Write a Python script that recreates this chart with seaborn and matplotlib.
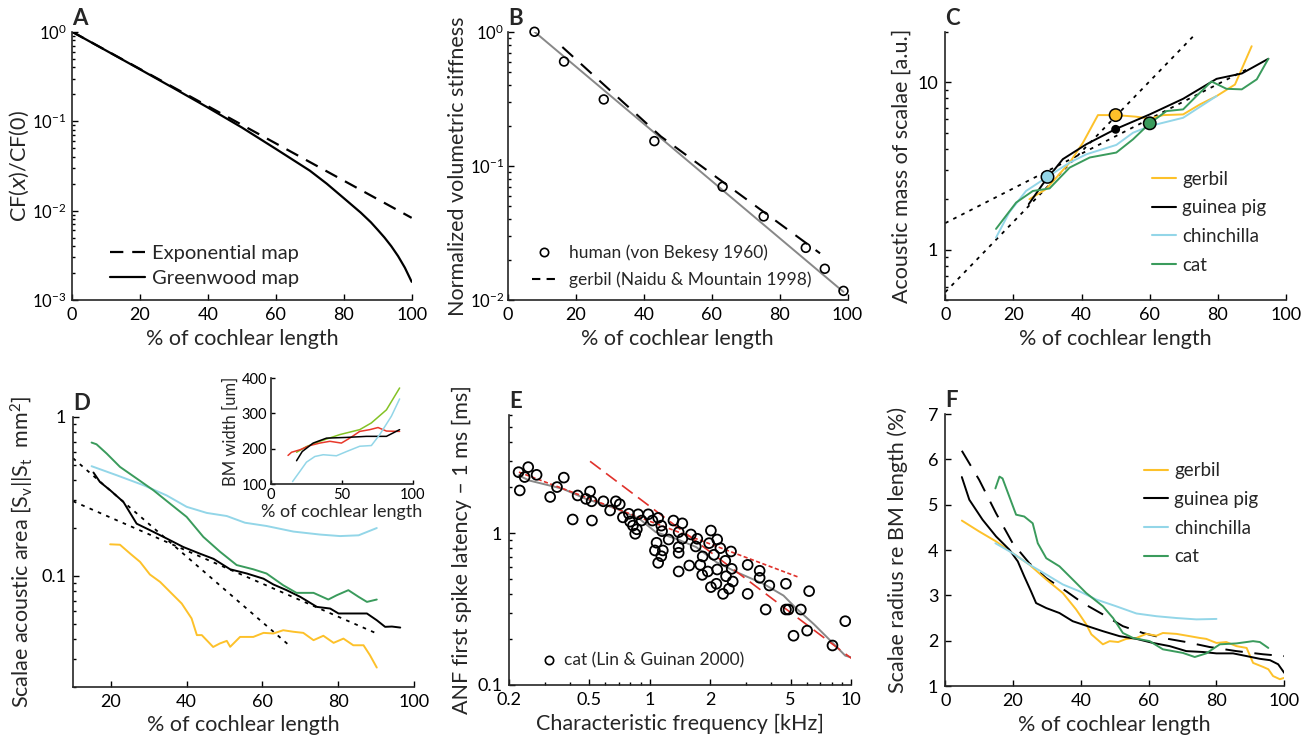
import numpy as np
import pandas as pd
import matplotlib
matplotlib.use("Agg")
import matplotlib.pyplot as plt
import seaborn as sns
from matplotlib.ticker import FixedLocator, NullFormatter, LogLocator
from matplotlib.lines import Line2D

# ---------------- data ----------------
# A: place-frequency maps
a_exp_x = [0, 100]
a_exp_y = [1.0, 0.0083]
a_gw_x = [0, 10, 20, 30, 40, 50, 60, 70, 75, 80, 85, 88, 90, 92, 94, 96, 98, 100]
a_gw_y = [1.0, 0.617, 0.38, 0.233, 0.142, 0.085, 0.049, 0.028, 0.020, 0.0138,
          0.0095, 0.0074, 0.0061, 0.0050, 0.0040, 0.0031, 0.0023, 0.0016]

# B: normalized volumetric stiffness
b_human_x = [7.8, 16.5, 28.2, 43.1, 63.2, 75.3, 87.7, 93.3, 98.8]
b_human_y = [1.0, 0.60, 0.313, 0.153, 0.070, 0.042, 0.0245, 0.0171, 0.0117]
b_fit_x = [7.8, 98.8]
b_fit_y = [1.0, 0.0115]
b_gerbil_x = [16, 45, 91.9]
b_gerbil_y = [0.77, 0.166, 0.0223]

# C: acoustic mass of scalae
c_gerbil_x = [24.7, 29.6, 36.5, 40.4, 44.8, 50.2, 56, 60, 64, 69.8, 74.7, 79.6, 85, 89.9]
c_gerbil_y = [2.0, 2.30, 3.31, 4.35, 6.36, 6.36, 6.22, 6.06, 6.36, 6.42, 7.36, 8.26, 9.68, 16.4]
c_gp_x = [24.5, 28.6, 34.5, 41.4, 50.0, 60, 69.8, 79.6, 87, 94.8]
c_gp_y = [1.87, 2.46, 3.47, 4.26, 5.25, 6.42, 7.96, 10.47, 11.27, 13.8]
c_ch_x = [14.9, 18.8, 23.7, 30, 36.5, 41.4, 50.2, 55.1, 60, 69.8, 79.6]
c_ch_y = [1.18, 1.67, 2.24, 2.72, 3.31, 3.71, 4.22, 4.99, 5.47, 6.13, 8.26]
c_cat_x = [14.9, 20.8, 25.7, 30.6, 36.5, 42.4, 50.2, 55.1, 60, 64.9, 69.8, 73.7,
           78.1, 82.5, 87, 91.4, 94.8]
c_cat_y = [1.33, 1.91, 2.24, 2.32, 3.09, 3.55, 3.80, 4.56, 5.68, 6.72, 6.88, 8.26,
           10.1, 9.13, 9.06, 10.4, 13.8]
c_steep_x = [0, 73.2]
c_steep_y = [0.557, 19.2]
c_shallow_x = [0, 89.4]
c_shallow_y = [1.44, 12.2]
c_pts_x = [30, 50, 50, 60]
c_pts_y = [2.72, 6.36, 5.23, 5.68]

# D: scalae acoustic area
d_cat_x = [14.9, 16.2, 18.9, 22.4, 26.8, 31.2, 35.6, 40, 44.4, 48.8, 53.2, 57.6,
           61.1, 65.5, 69, 73.5, 77.4, 79.6, 82.7, 85.4, 87.6, 90.2]
d_cat_y = [0.69, 0.673, 0.588, 0.485, 0.41, 0.346, 0.285, 0.235, 0.176, 0.142, 0.117,
           0.110, 0.1035, 0.0873, 0.0782, 0.0782, 0.071, 0.0755, 0.0813, 0.0738, 0.0686, 0.071]
d_ch_x = [14.9, 21.5, 28.6, 34.7, 40, 45.3, 50.6, 55.4, 61.1, 68.2, 75.2, 80.5, 85.4, 90.2]
d_ch_y = [0.49, 0.43, 0.372, 0.321, 0.272, 0.249, 0.238, 0.216, 0.206, 0.19, 0.182,
          0.178, 0.18, 0.2]
d_gp_x = [15.4, 17.1, 19.8, 23.3, 26.8, 30.3, 34.7, 39.1, 43.5, 47.1, 51.5, 55.9, 60.3,
          62.9, 66.4, 70, 74.4, 77.9, 80.1, 83.2, 87.6, 90.2, 92.4, 94.2, 96.4]
d_gp_y = [0.447, 0.39, 0.346, 0.292, 0.213, 0.194, 0.172, 0.152, 0.138, 0.128, 0.11,
          0.1035, 0.096, 0.0883, 0.0813, 0.0738, 0.0638, 0.0623, 0.058, 0.058, 0.058,
          0.0526, 0.0478, 0.048, 0.0473]
d_gerbil_x = [19.8, 22.4, 25.1, 27.7, 30.3, 33, 35.6, 38.7, 41.3, 42.7, 44, 47, 48.8,
              50.6, 51.5, 54.1, 57.6, 60.3, 62.9, 65.5, 68.2, 70.8, 73.5, 76.1, 78.8,
              81.4, 84, 86.7, 88.4, 90.2]
d_gerbil_y = [0.158, 0.157, 0.138, 0.1225, 0.102, 0.0916, 0.0794, 0.067, 0.054, 0.0424,
              0.0424, 0.0357, 0.0376, 0.039, 0.0358, 0.0413, 0.0413, 0.0438, 0.0434,
              0.0455, 0.0445, 0.0438, 0.0394, 0.042, 0.0379, 0.0403, 0.0366, 0.0366,
              0.0317, 0.0265]
d_steep_x = [10, 67.1]
d_steep_y = [0.55, 0.0365]
d_shallow_x = [10, 90.2]
d_shallow_y = [0.295, 0.0434]

# D inset: BM width
i_green_x = [18, 25, 34.4, 48.5, 62.5, 70.7, 81.3, 90.6]
i_green_y = [190, 206, 221, 240, 254, 273, 310, 372]
i_red_x = [12, 14.5, 20.4, 27.4, 34.4, 41.5, 49.6, 55.5, 62.5, 69.6, 75.4, 81.3, 90.6]
i_red_y = [181, 190, 197, 209, 216, 221, 216, 230, 249, 254, 260, 250, 249]
i_black_x = [18, 22, 29.7, 39.1, 53.2, 67.2, 81.3, 90.6]
i_black_y = [166, 192, 216, 230, 232, 235, 235, 254]
i_cyan_x = [15.2, 20.4, 25, 30.9, 36.8, 46.1, 53.2, 62.5, 70.7, 76.6, 84.8, 90.6]
i_cyan_y = [107, 136, 162, 178, 183, 180, 192, 207, 209, 240, 292, 341]

# E: ANF first spike latency vs CF (cat, Lin & Guinan 2000)
e_cf = [0.223, 0.226, 0.239, 0.249, 0.274, 0.320, 0.346, 0.374, 0.414, 0.438, 0.482,
        0.505, 0.514, 0.516, 0.588, 0.635, 0.678, 0.709, 0.735, 0.787, 0.798, 0.824,
        0.846, 0.862, 0.875, 0.910, 0.982, 1.03, 1.08, 1.06, 1.10, 1.10, 1.14, 1.14,
        1.15, 1.16, 1.24, 1.31, 1.39, 1.39, 1.39, 1.39, 1.45, 1.45, 1.57, 1.60, 1.69,
        1.72, 1.78, 1.82, 1.83, 1.94, 1.97, 2.01, 2.01, 2.08, 2.14, 2.16, 2.16, 2.24,
        2.31, 2.37, 2.39, 2.47, 2.53, 2.55, 2.58, 3.06, 3.06, 3.51, 3.51, 3.76, 3.92,
        4.74, 4.74, 4.88, 5.17, 5.62, 6.04, 6.18, 8.07, 9.34]
e_lat = [2.52, 1.91, 2.34, 2.72, 2.42, 1.73, 2.01, 2.32, 1.23, 1.77, 1.68, 1.88, 1.62,
         1.21, 1.62, 1.41, 1.62, 1.55, 1.27, 1.34, 1.19, 1.12, 0.99, 1.06, 1.33, 1.21,
         1.33, 1.21, 0.864, 0.769, 0.637, 1.26, 1.12, 0.705, 1.03, 0.769, 0.908, 1.21,
         1.015, 0.809, 0.742, 0.559, 1.16, 0.918, 0.612, 0.98, 0.817, 0.918, 0.618,
         0.531, 0.702, 0.559, 0.859, 1.04, 0.441, 0.72, 0.464, 0.908, 0.576, 0.796,
         0.398, 0.657, 0.52, 0.43, 0.757, 0.582, 0.48, 0.618, 0.398, 0.565, 0.508,
         0.314, 0.452, 0.464, 0.314, 0.314, 0.211, 0.314, 0.228, 0.415, 0.182, 0.263]
e_smooth_x = [0.223, 0.252, 0.369, 0.482, 0.681, 0.889, 1.07, 1.35, 1.70, 2.14, 2.70,
              3.66, 4.61, 5.26, 6.51, 7.88, 9.34, 10]
e_smooth_y = [2.40, 2.22, 1.96, 1.68, 1.45, 1.24, 1.015, 0.918, 0.809, 0.644, 0.553,
              0.464, 0.388, 0.325, 0.252, 0.196, 0.156, 0.152]
e_fit1_x = [0.224, 5.47]
e_fit1_y = [2.52, 0.513]
e_fit2_x = [0.505, 10]
e_fit2_y = [2.97, 0.15]

# F: scalae radius re BM length
f_model_x = [4.9, 10, 15, 19.9, 24.8, 29.8, 35.7, 40.6, 46.5, 52.4, 58.3, 64.2, 71.1,
             78, 85.9, 93.8, 100]
f_model_y = [6.19, 5.55, 4.81, 4.15, 3.71, 3.38, 3.09, 2.83, 2.58, 2.32, 2.17, 2.06,
             1.97, 1.86, 1.77, 1.70, 1.66]
f_gp_x = [4.9, 7.1, 11, 15, 18.9, 21.4, 23.3, 25.3, 26.8, 29.8, 33.7, 37.6, 41.6, 46.5,
          51.4, 56.4, 61.3, 66.2, 71.1, 76.1, 80, 84.9, 88.9, 92.8, 95.8, 98.2, 100]
f_gp_y = [5.61, 5.11, 4.67, 4.30, 4.01, 3.75, 3.42, 3.09, 2.83, 2.72, 2.61, 2.43, 2.33,
          2.21, 2.10, 2.04, 1.95, 1.88, 1.77, 1.75, 1.72, 1.72, 1.66, 1.60, 1.57, 1.48, 1.29]
f_gerbil_x = [4.9, 10, 15, 19.9, 24.8, 29.8, 34.7, 38.6, 41.6, 43.1, 46.5, 48.5, 51,
              53.4, 56.4, 59.3, 62.3, 64.2, 68.2, 72.1, 75.1, 77, 80, 82.9, 85.9, 88.9,
              90.8, 93.8, 95.3, 96.7, 98.7, 100]
f_gerbil_y = [4.65, 4.41, 4.19, 3.93, 3.68, 3.35, 3.05, 2.69, 2.36, 2.14, 1.92, 1.99,
              1.97, 2.04, 2.06, 2.15, 2.11, 2.17, 2.15, 2.10, 2.06, 2.04, 1.95, 1.97,
              1.88, 1.84, 1.51, 1.42, 1.37, 1.22, 1.15, 1.18]
f_ch_x = [14.8, 19.9, 24.8, 29.8, 34.7, 39.6, 44.5, 50.4, 56.4, 62.3, 68.2, 74.1, 80]
f_ch_y = [4.15, 3.93, 3.68, 3.46, 3.24, 3.09, 2.91, 2.76, 2.60, 2.54, 2.50, 2.47, 2.48]
f_cat_x = [14.8, 16, 16.9, 18.9, 20.9, 23.3, 25.8, 27.3, 29.8, 33.7, 37.6, 41.6, 46.5,
           49.5, 52.4, 55.4, 60.3, 64.2, 70.1, 73.6, 77, 81, 85.9, 90.8, 92.8, 95.3]
f_cat_y = [5.36, 5.62, 5.58, 5.18, 4.78, 4.74, 4.59, 4.15, 3.82, 3.64, 3.35, 3.05, 2.76,
           2.50, 2.17, 2.06, 1.99, 1.81, 1.73, 1.64, 1.72, 1.92, 1.94, 1.99, 1.97, 1.84]

species = ["gerbil", "guinea pig", "chinchilla", "cat"]

# ---------------- style ----------------
sns.set_theme(style="ticks")
plt.rcParams['font.family'] = ['Lato', 'DejaVu Sans']
plt.rcParams['mathtext.default'] = 'regular'
plt.rcParams['axes.linewidth'] = 1.2

GOLD = "#fdc12a"
CYAN = "#93d6e8"
GREEN = "#3a9b5c"
GRAY = "#888888"
RED = "#e0312b"
colors = [GOLD, "black", CYAN, GREEN]

LAB = 15.5
TICK = 13
LEG = 14.5


def line(ax, x, y, **kw):
    sns.lineplot(x=x, y=y, ax=ax, estimator=None, sort=False, **kw)


def style(ax):
    sns.despine(ax=ax)
    ax.tick_params(which='both', direction='in', width=1, colors='black',
                   labelsize=TICK, pad=5)
    ax.tick_params(which='major', length=4.5)
    ax.tick_params(which='minor', length=2.5)


def letter(ax, s):
    ax.text(0.0, 1.025, s, transform=ax.transAxes, fontsize=16, fontweight='bold',
            ha='left', va='baseline')


def species_legend(ax, anchor):
    ax.legend(handles=[Line2D([], [], color=c, lw=1.5) for c in colors], labels=species,
              frameon=False, fontsize=13.5, loc='upper left', bbox_to_anchor=anchor,
              borderpad=0, handlelength=1.28, handletextpad=0.32, labelspacing=0.62)


fig = plt.figure(figsize=(13.11, 7.39), dpi=100)

# ---------------- A ----------------
axA = fig.add_axes([0.055, 0.594, 0.259, 0.363])
line(axA, a_exp_x, a_exp_y, color='black', linewidth=1.6, linestyle=(0, (6, 4)))
line(axA, a_gw_x, a_gw_y, color='black', linewidth=1.6)
axA.set_yscale('log')
axA.set_xlim(0, 100)
axA.set_ylim(1e-3, 1)
axA.set_xticks([0, 20, 40, 60, 80, 100])
axA.yaxis.set_minor_formatter(NullFormatter())
axA.set_xlabel("% of cochlear length", fontsize=LAB)
style(axA)
axA.tick_params(axis='y', labelsize=12, pad=4)
axA.set_ylabel("CF($\\it{x}$)/CF(0)", fontsize=LAB, labelpad=1)
axA.legend(handles=[Line2D([], [], color='black', lw=1.6, ls=(0, (6, 4))),
                    Line2D([], [], color='black', lw=1.6)],
           labels=["Exponential map", "Greenwood map"], frameon=False,
           fontsize=LEG, loc='upper left', bbox_to_anchor=(0.082, 0.243),
           borderpad=0, handlelength=1.75, handletextpad=0.35, labelspacing=0.37)
letter(axA, "A")

# ---------------- B ----------------
axB = fig.add_axes([0.3875, 0.594, 0.259, 0.363])
line(axB, b_fit_x, b_fit_y, color=GRAY, linewidth=1.4)
line(axB, b_gerbil_x, b_gerbil_y, color='black', linewidth=1.5, linestyle=(0, (7, 5)))
sns.scatterplot(x=b_human_x, y=b_human_y, ax=axB, marker='o', s=40,
                facecolors='none', edgecolor='black', linewidth=1.2, zorder=5,
                clip_on=False)
axB.set_yscale('log')
axB.set_xlim(0, 100)
axB.set_ylim(1e-2, 1.0)
axB.set_xticks([0, 20, 40, 60, 80, 100])
axB.yaxis.set_minor_formatter(NullFormatter())
axB.set_xlabel("% of cochlear length", fontsize=LAB)
style(axB)
axB.tick_params(axis='y', labelsize=12, pad=3)
axB.set_ylabel("Normalized volumetric stiffness", fontsize=LAB, labelpad=1)
axB.legend(handles=[Line2D([], [], ls='none', marker='o', mfc='none', mec='black',
                           ms=6, mew=1.2),
                    Line2D([], [], color='black', lw=1.5, ls=(0, (4, 3)))],
           labels=["human (von Bekesy 1960)", "gerbil (Naidu & Mountain 1998)"],
           frameon=False, fontsize=12.5, loc='upper left', bbox_to_anchor=(0.044, 0.241),
           borderpad=0, handlelength=1.4, handletextpad=0.75, labelspacing=0.62)
letter(axB, "B")

# ---------------- C ----------------
axC = fig.add_axes([0.721, 0.594, 0.260, 0.363])
line(axC, c_steep_x, c_steep_y, color='black', linewidth=1.3, linestyle=(0, (2, 3)))
line(axC, c_shallow_x, c_shallow_y, color='black', linewidth=1.3, linestyle=(0, (2, 3)))
for xs, ys, col in zip([c_gerbil_x, c_gp_x, c_ch_x, c_cat_x],
                       [c_gerbil_y, c_gp_y, c_ch_y, c_cat_y], colors):
    line(axC, xs, ys, color=col, linewidth=1.4)
sns.scatterplot(x=c_pts_x, y=c_pts_y, ax=axC, hue=["a", "b", "c", "d"],
                palette=[CYAN, GOLD, "black", GREEN], size=["a", "b", "c", "d"],
                sizes={"a": 80, "b": 80, "c": 28, "d": 80}, edgecolor='black',
                linewidth=1.1, legend=False, zorder=6)
axC.set_yscale('log')
axC.set_xlim(0, 100)
axC.set_ylim(0.5, 20)
axC.set_xticks([0, 20, 40, 60, 80, 100])
axC.yaxis.set_major_locator(FixedLocator([1, 10]))
axC.set_yticklabels(["1", "10"])
axC.yaxis.set_minor_formatter(NullFormatter())
axC.set_xlabel("% of cochlear length", fontsize=LAB)
axC.set_ylabel("Acoustic mass of scalae [a.u.]", fontsize=LAB)
style(axC)
species_legend(axC, (0.58, 0.517))
letter(axC, "C")

# ---------------- D ----------------
axD = fig.add_axes([0.0557, 0.0704, 0.260, 0.3654])
line(axD, d_steep_x, d_steep_y, color='black', linewidth=1.3, linestyle=(0, (2, 3)))
line(axD, d_shallow_x, d_shallow_y, color='black', linewidth=1.3, linestyle=(0, (2, 3)))
for xs, ys, col in zip([d_gerbil_x, d_gp_x, d_ch_x, d_cat_x],
                       [d_gerbil_y, d_gp_y, d_ch_y, d_cat_y], colors):
    line(axD, xs, ys, color=col, linewidth=1.4)
axD.set_yscale('log')
axD.set_xlim(10, 100)
axD.set_ylim(0.02, 1)
axD.set_xticks([20, 40, 60, 80, 100])
axD.yaxis.set_major_locator(FixedLocator([0.1, 1]))
axD.set_yticklabels(["0.1", "1"])
axD.yaxis.set_minor_locator(LogLocator(subs=np.arange(2, 10)))
axD.yaxis.set_minor_formatter(NullFormatter())
axD.set_xlabel("% of cochlear length", fontsize=LAB)
axD.set_ylabel("Scalae acoustic area [S$_v$||S$_t$  mm$^2$]", fontsize=LAB)
style(axD)
letter(axD, "D")

axI = fig.add_axes([0.2067, 0.345, 0.1083, 0.1434])
line(axI, i_green_x, i_green_y, color="#84c225", linewidth=1.1)
line(axI, i_red_x, i_red_y, color="#e8392b", linewidth=1.1)
line(axI, i_black_x, i_black_y, color='black', linewidth=1.1)
line(axI, i_cyan_x, i_cyan_y, color=CYAN, linewidth=1.1)
axI.set_xlim(0, 100)
axI.set_ylim(100, 400)
axI.set_xticks([0, 50, 100])
axI.set_yticks([100, 200, 300, 400])
style(axI)
axI.tick_params(labelsize=10.5, pad=3)
axI.tick_params(which='major', length=3)
axI.set_xlabel("% of cochlear length", fontsize=13, labelpad=1)
axI.set_ylabel("BM width [um]", fontsize=12, labelpad=2)
axI.patch.set_alpha(0)

# ---------------- E ----------------
axE = fig.add_axes([0.3883, 0.0731, 0.261, 0.3654])
line(axE, e_smooth_x, e_smooth_y, color=GRAY, linewidth=1.4)
line(axE, e_fit1_x, e_fit1_y, color=RED, linewidth=1.2, linestyle=(0, (2.5, 1.5)))
line(axE, e_fit2_x, e_fit2_y, color=RED, linewidth=1.2, linestyle=(0, (8, 4)))
sns.scatterplot(x=e_cf, y=e_lat, ax=axE, marker='o', s=50, facecolors='none',
                edgecolor='black', linewidth=1.3, zorder=5)
axE.set_xscale('log')
axE.set_yscale('log')
axE.set_xlim(0.2, 10)
axE.set_ylim(0.1, 6)
axE.xaxis.set_major_locator(FixedLocator([0.2, 0.5, 1, 2, 5, 10]))
axE.set_xticklabels(["0.2", "0.5", "1", "2", "5", "10"])
axE.xaxis.set_minor_formatter(NullFormatter())
axE.yaxis.set_major_locator(FixedLocator([0.1, 1]))
axE.set_yticklabels(["0.1", "1"])
axE.yaxis.set_minor_locator(LogLocator(subs=np.arange(2, 10)))
axE.yaxis.set_minor_formatter(NullFormatter())
axE.set_xlabel("Characteristic frequency [kHz]", fontsize=LAB)
axE.set_ylabel("ANF first spike latency \u2013 1 ms [ms]", fontsize=LAB)
style(axE)
axE.legend(handles=[Line2D([], [], ls='none', marker='o', mfc='none', mec='black',
                           ms=6, mew=1.2)],
           labels=["cat (Lin & Guinan 2000)"], frameon=False, fontsize=12.5,
           loc='upper left', bbox_to_anchor=(0.067, 0.152), borderpad=0,
           handlelength=1.0, handletextpad=0.32)
letter(axE, "E")

# ---------------- F ----------------
axF = fig.add_axes([0.721, 0.0717, 0.2586, 0.368])
line(axF, f_model_x, f_model_y, color='black', linewidth=1.4, linestyle=(0, (9, 6)))
for xs, ys, col in zip([f_gerbil_x, f_gp_x, f_ch_x, f_cat_x],
                       [f_gerbil_y, f_gp_y, f_ch_y, f_cat_y], colors):
    line(axF, xs, ys, color=col, linewidth=1.4)
axF.set_xlim(0, 100)
axF.set_ylim(1, 7)
axF.set_xticks([0, 20, 40, 60, 80, 100])
axF.set_yticks([1, 2, 3, 4, 5, 6, 7])
axF.set_xlabel("% of cochlear length", fontsize=LAB)
axF.set_ylabel("Scalae radius re BM length (%)", fontsize=LAB, labelpad=14)
style(axF)
species_legend(axF, (0.56, 0.857))
letter(axF, "F")

fig.savefig("out.png", dpi=100)
